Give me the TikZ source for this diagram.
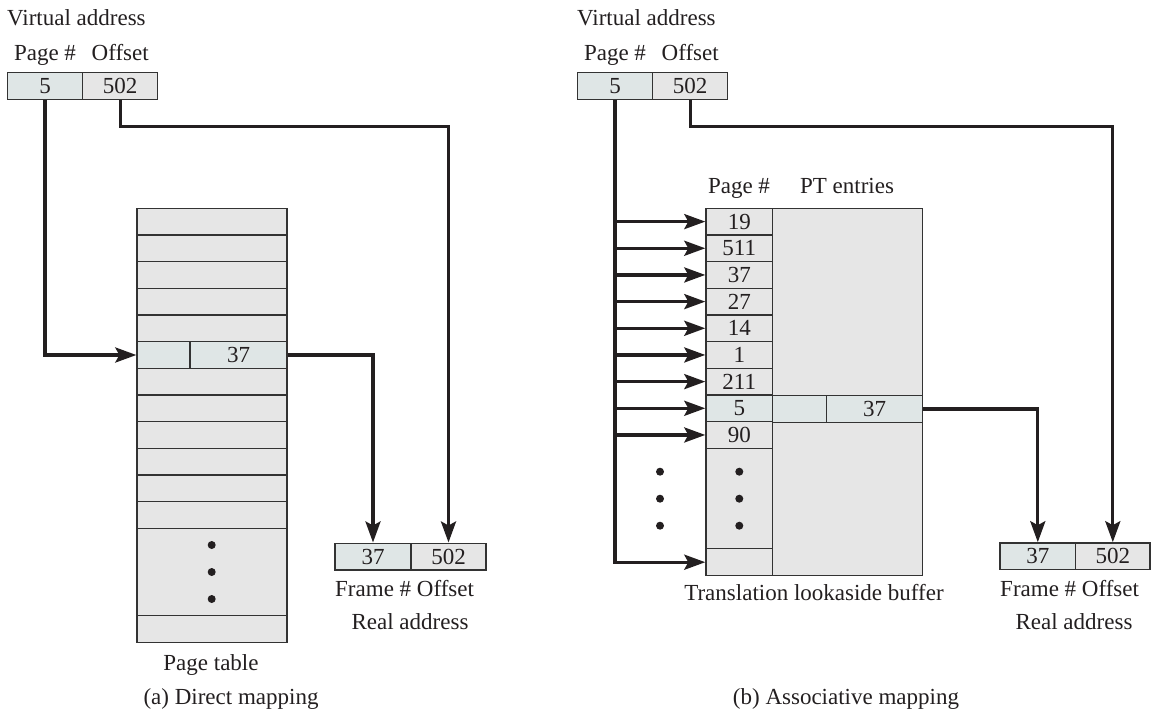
\documentclass[tikz,border=0pt]{standalone}
\usepackage{fontspec}
\setmainfont{Liberation Serif}
\usepackage{tikz}
\usetikzlibrary{positioning,arrows.meta}
\usepackage{xcolor}
\definecolor{cellgrey}{HTML}{E6E6E6}
\definecolor{cellblue}{HTML}{DFE6E6}
\definecolor{ink}{HTML}{231F20}
\definecolor{rulegrey}{HTML}{333333}

\begin{document}
\begin{tikzpicture}[x=1pt,y=-1pt,>={Stealth[length=21pt,width=15pt,inset=4pt]},
  font=\fontsize{23}{27}\selectfont,text=ink,
  cell/.style={draw=rulegrey,line width=1.3pt,fill=cellgrey,inner sep=0pt,minimum height=26.7pt},
  link/.style={->,draw=ink,line width=3.3pt},
  lbl/.style={anchor=base,inner sep=0pt}]
\useasboundingbox (0,0) rectangle (1151,715);

% (a) direct mapping
\node[lbl,anchor=base west] (vaname) at (7,25) {Virtual address};
\node[cell,fill=cellblue,minimum width=75.4pt] (va5) at (45,85.8) {5};
\node[cell,minimum width=75pt] (vaoff) at (120.2,85.8) {502};
\node[lbl] (vapage) at (45,60) {Page \#};
\node[lbl] (vaofflbl) at (120.2,60) {Offset};

\foreach \i in {0,...,4,6,7,...,11}
  \node[cell,minimum width=150pt] (pt\i) at (212,{221.6+26.67*\i}) {};
\node[cell,fill=cellblue,minimum width=53pt] (ptv) at (163.5,355) {};
\node[cell,fill=cellblue,minimum width=97pt] (ptf) at (238.5,355) {37};
\node[cell,minimum width=150pt,minimum height=87.4pt] (ptdots) at (212,572) {};
\node[cell,minimum width=150pt,minimum height=26.6pt] (ptlast) at (212,629) {};
\foreach \y in {545,572,599}
  \fill[ink] (211.7,\y) circle (4pt);
\node[lbl] (ptname) at (211,670) {Page table};

\node[cell,fill=cellblue,minimum width=76pt] (raframe) at (373,556.5) {37};
\node[cell,minimum width=75pt] (raoff) at (448.5,556.5) {502};
\node[lbl,anchor=base west] (rafields) at (335,596) {Frame \# Offset};
\node[lbl] (raname) at (410,629) {Real address};

\draw[link] (va5.south) |- (ptv.west);
\draw[link] (vaoff.south) -- ++(0,27) -| (raoff.north);
\draw[link] (ptf.east) -| (raframe.north);

\node[lbl] (capa) at (231,704) {(a) Direct mapping};

% (b) associative mapping
\node[lbl,anchor=base west] (vanameb) at (577,25) {Virtual address};
\node[cell,fill=cellblue,minimum width=75.4pt] (va5b) at (615,85.8) {5};
\node[cell,minimum width=75pt] (vaoffb) at (690.2,85.8) {502};
\node[lbl] (vapageb) at (615,60) {Page \#};
\node[lbl] (vaofflblb) at (690.2,60) {Offset};

\node[lbl] (tlbpage) at (739,193) {Page \#};
\node[lbl] (tlbpt) at (847,193) {PT entries};
\foreach \v/\f [count=\i from 0] in {19/cellgrey,511/cellgrey,37/cellgrey,27/cellgrey,14/cellgrey,1/cellgrey,211/cellgrey,5/cellblue,90/cellgrey}
  \node[cell,fill=\f,minimum width=66.7pt] (tp\i) at (739.3,{221.6+26.67*\i}) {\v};
\node[cell,minimum width=66.7pt,minimum height=100.4pt] (tpdots) at (739.3,498.5) {};
\node[cell,minimum width=66.7pt,minimum height=27pt] (tplast) at (739.3,562.2) {};
\node[cell,minimum width=150pt,minimum height=187.4pt] (ptup) at (847.7,302) {};
\node[cell,fill=cellblue,minimum width=54pt] (tlbv) at (799.7,408.9) {};
\node[cell,fill=cellblue,minimum width=96pt] (tlbf) at (874.7,408.9) {37};
\node[cell,minimum width=150pt,minimum height=153.4pt] (ptlow) at (847.7,499) {};
\foreach \y in {471.7,498.7,525.7} {
  \fill[ink] (660,\y) circle (4pt);
  \fill[ink] (739.3,\y) circle (4pt);
}
\node[lbl] (tlbname) at (814,600) {Translation lookaside buffer};

\node[cell,fill=cellblue,minimum width=75.7pt] (raframeb) at (1037.8,556.2) {37};
\node[cell,minimum width=74.3pt] (raoffb) at (1112.8,556.2) {502};
\node[lbl,anchor=base west] (rafieldsb) at (1000,596) {Frame \# Offset};
\node[lbl] (ranameb) at (1074,629) {Real address};

\foreach \i in {0,...,8}
  \draw[link] (va5b.south |- tp\i.west) -- (tp\i.west);
\draw[link] (va5b.south) |- (tplast.west);
\draw[link] (vaoffb.south) -- ++(0,27) -| (raoffb.north);
\draw[link] (tlbf.east) -| (raframeb.north);

\node[lbl] (capb) at (846,704) {(b) Associative mapping};
\end{tikzpicture}
\end{document}
